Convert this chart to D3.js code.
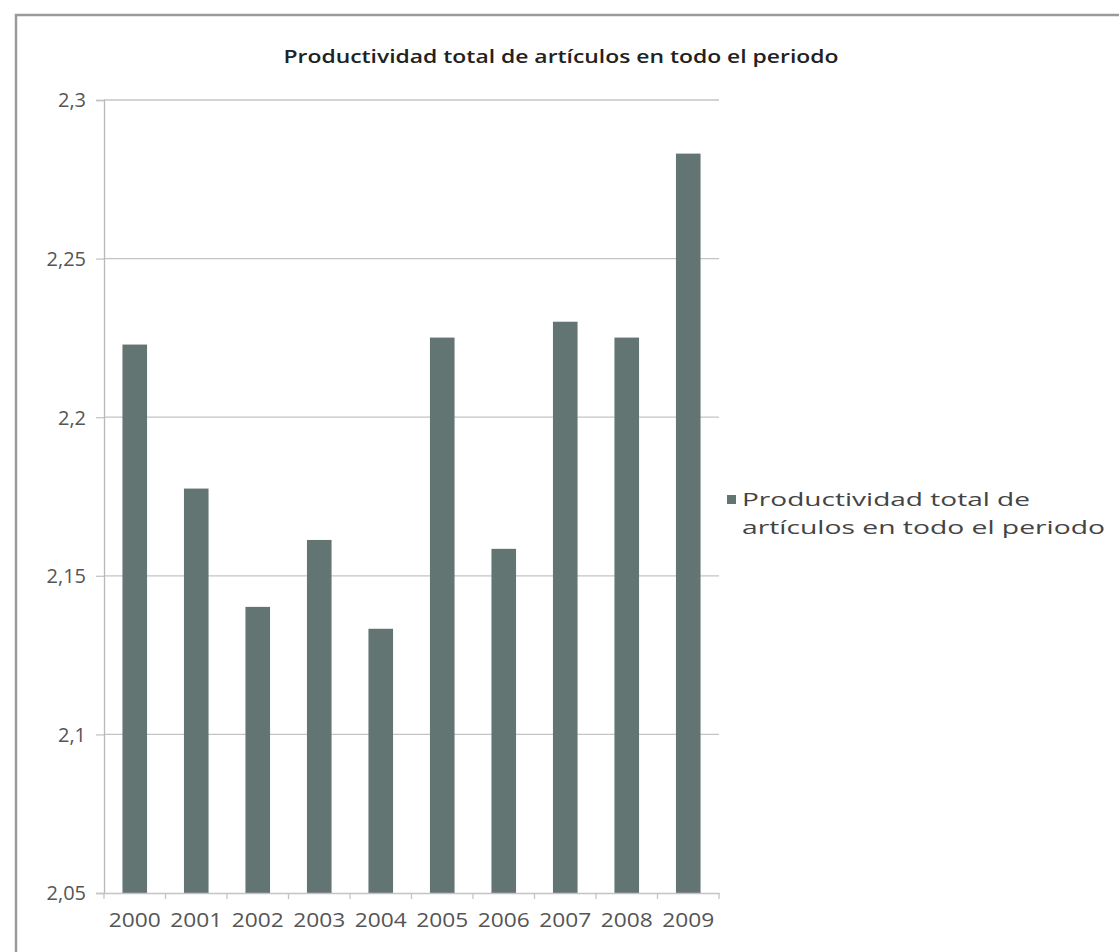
<!DOCTYPE html>
<html>
<head>
<meta charset="utf-8">
<script src="https://cdn.jsdelivr.net/npm/d3@7"></script>
<style>
  html, body { margin: 0; padding: 0; background: #fff; }
  svg { display: block; }
</style>
</head>
<body>
<script>
const title = "Productividad total de artículos en todo el periodo";
const seriesName = "Productividad total de artículos en todo el periodo";
const legendLines = ["Productividad total de", "artículos en todo el periodo"];
const years = ["2000","2001","2002","2003","2004","2005","2006","2007","2008","2009"];
const values = [2.2229, 2.1775, 2.1402, 2.1613, 2.1333, 2.2251, 2.1585, 2.2301, 2.2251, 2.2831];
const yTicks = [2.05, 2.1, 2.15, 2.2, 2.25, 2.3];
const yDomain = [2.05, 2.3];

const W = 1119, H = 952;
const svg = d3.select("body").append("svg").attr("width", W).attr("height", H);
const font = "'Open Sans', 'Liberation Sans', sans-serif";

// chart frame
svg.append("rect").attr("x", 16).attr("y", 15).attr("width", W + 10).attr("height", H + 10)
  .attr("fill", "#fff").attr("stroke", "#9a9a9a").attr("stroke-width", 2.5);

const pLeft = 104, pRight = 719, pTop = 100, pBottom = 893;

const x = d3.scaleBand().domain(years).range([pLeft, pRight]).paddingInner(0.6).paddingOuter(0.3);
const y = d3.scaleLinear().domain(yDomain).range([pBottom, pTop]);

// gridlines
svg.append("g").selectAll("line").data(yTicks.slice(1)).join("line")
  .attr("x1", pLeft).attr("x2", pRight)
  .attr("y1", d => y(d)).attr("y2", d => y(d))
  .attr("stroke", "#c4c4c4").attr("stroke-width", 1.3);

// bars
svg.append("g").selectAll("rect").data(values).join("rect")
  .attr("x", (d, i) => x(years[i]))
  .attr("width", x.bandwidth())
  .attr("y", d => y(d))
  .attr("height", d => y(yDomain[0]) - y(d))
  .attr("fill", "#637573");

// y axis
const yAxis = d3.axisLeft(y).tickValues(yTicks).tickSize(8).tickPadding(10)
  .tickFormat(d => d3.format(",")(d).replace(".", ","));
const gy = svg.append("g").attr("transform", `translate(${pLeft},0)`).call(yAxis);
gy.select(".domain").attr("stroke", "#b8b8b8").attr("stroke-width", 1.3);
gy.selectAll(".tick line").attr("stroke", "#c4c4c4").attr("stroke-width", 1.3);
gy.selectAll(".tick text").attr("font-family", font).attr("font-size", 20)
  .attr("fill", "#555").attr("dy", "0.34em");

// x axis
const xAxis = d3.axisBottom(x).tickSize(0).tickPadding(20);
const gx = svg.append("g").attr("transform", `translate(0,${pBottom})`).call(xAxis);
gx.select(".domain").attr("stroke", "#c4c4c4").attr("stroke-width", 1.3);
gx.selectAll(".tick text").attr("font-family", font).attr("font-size", 20)
  .attr("fill", "#555").attr("textLength", 52).attr("lengthAdjust", "spacingAndGlyphs");
// category boundary ticks
const bounds = d3.range(years.length + 1).map(i => pLeft + i * (pRight - pLeft) / years.length);
svg.append("g").selectAll("line").data(bounds).join("line")
  .attr("x1", d => d).attr("x2", d => d)
  .attr("y1", pBottom).attr("y2", pBottom + 6)
  .attr("stroke", "#c4c4c4").attr("stroke-width", 1.3);

// title
svg.append("text").attr("x", 561).attr("y", 63).attr("text-anchor", "middle")
  .attr("font-family", font).attr("font-size", 18).attr("font-weight", 600)
  .attr("fill", "#222").attr("textLength", 555).attr("lengthAdjust", "spacingAndGlyphs")
  .text(title);

// legend
const lg = svg.append("g").attr("class", "legend");
lg.append("rect").attr("x", 727).attr("y", 495).attr("width", 9).attr("height", 9).attr("fill", "#637573");
lg.selectAll("text").data(legendLines).join("text")
  .attr("x", 742).attr("y", (d, i) => 506 + i * 28)
  .attr("font-family", font).attr("font-size", 18).attr("fill", "#444")
  .attr("textLength", (d, i) => i === 0 ? 288 : 363).attr("lengthAdjust", "spacingAndGlyphs")
  .text(d => d);
lg.append("title").text(seriesName);
</script>
</body>
</html>
